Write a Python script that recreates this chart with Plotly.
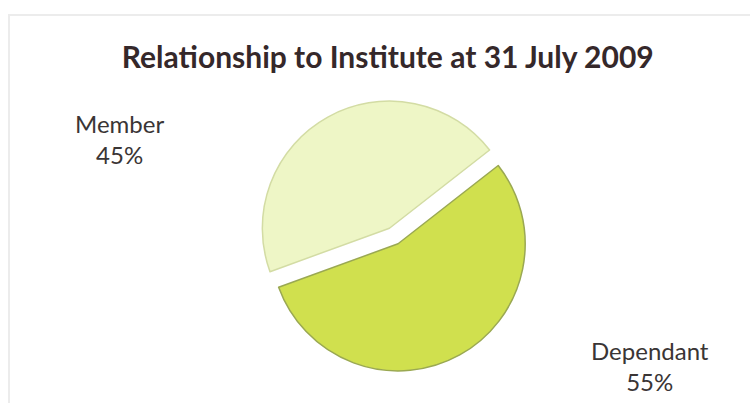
import plotly.graph_objects as go

labels = ["Member", "Dependant"]
values = [45, 55]
colors = ["#EEF6C6", "#D0E04E"]
side_colors = ["#D3DCA4", "#9AA852"]
title_text = "Relationship to Institute at 31 July 2009"

W, H = 750, 403

fig = go.Figure()
fig.add_trace(go.Pie(
    labels=labels,
    values=values,
    sort=False,
    direction="clockwise",
    rotation=-110,
    pull=[0.07, 0.07],
    marker=dict(colors=colors, line=dict(color=side_colors, width=1.5)),
    textinfo="none",
    hoverinfo="label+percent",
    domain=dict(x=[0.18, 0.87], y=[1 - 372 / H, 1 - 100 / H]),
    showlegend=False,
))

total = sum(values)
label_pos = [(119 / W, 1 - 139 / H), (650 / W, 1 - 366 / H)]
for lab, val, (px, py) in zip(labels, values, label_pos):
    fig.add_annotation(
        x=px, y=py, xref="paper", yref="paper",
        xanchor="center", yanchor="middle",
        text=f"{lab}<br>{round(100 * val / total)}%",
        showarrow=False, align="center",
        font=dict(family="Lato", size=24, color="#3a3535"),
    )

fig.add_shape(type="rect", xref="paper", yref="paper",
              x0=9 / W, x1=1.05, y0=-0.05, y1=1 - 15 / H,
              line=dict(color="#ececec", width=2), layer="below")

fig.update_layout(
    width=W, height=H,
    margin=dict(l=0, r=0, t=0, b=0),
    paper_bgcolor="white",
    plot_bgcolor="white",
    title=dict(text=f"<b>{title_text}</b>", x=0.517, xanchor="center",
               y=1 - 57 / H, yanchor="middle",
               font=dict(family="Lato", size=30, color="#35282a")),
)

fig.write_html("out.html")
